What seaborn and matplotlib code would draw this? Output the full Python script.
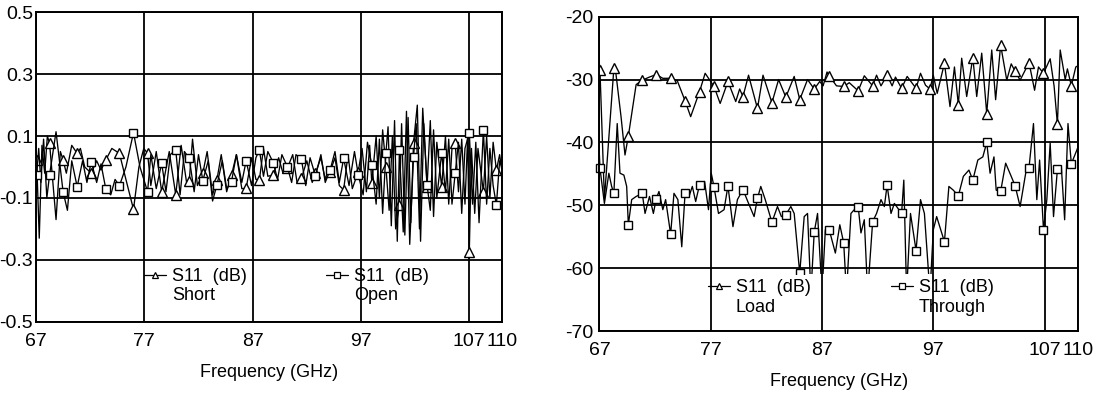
import numpy as np
import pandas as pd
import matplotlib
matplotlib.use("Agg")
import matplotlib.pyplot as plt
import seaborn as sns
from matplotlib import font_manager
from matplotlib.lines import Line2D
from matplotlib.legend import Legend
from matplotlib.transforms import Bbox, TransformedBbox

# ---------------- data ----------------
x_ticks = [67, 77, 87, 97, 107, 110]
x_tick_labels = ["67", "77", "87", "97", "107", "110"]
left_y_ticks = [0.5, 0.3, 0.1, -0.1, -0.3, -0.5]
left_y_labels = ["0.5", "0.3", "0.1", "-0.1", "-0.3", "-0.5"]
right_y_ticks = [-20, -30, -40, -50, -60, -70]
right_y_labels = ["-20", "-30", "-40", "-50", "-60", "-70"]
x_label = "Frequency (GHz)"
legend_title = "S11  (dB)"
left_names = ["Short", "Open"]
right_names = ["Load", "Through"]

# marker frequencies (GHz)
left_mk_freq = [67.06, 68.25, 69.5, 70.8, 72.1, 73.45, 74.7, 76.0, 77.3, 78.6, 79.9, 81.15,
                82.4, 83.7, 85.05, 86.4, 87.62, 88.9, 90.2, 91.5, 92.8, 94.15, 95.4, 96.75,
                98.0, 99.3, 100.55, 101.85, 103.1, 104.45, 105.7, 107.0, 108.3, 109.5]
short_mk = [0.023, 0.077, 0.023, 0.044, -0.02, 0.023, 0.044, -0.137, 0.044, -0.08, -0.09, -0.044,
            -0.02, -0.042, -0.026, -0.069, -0.042, -0.026, -0.004, -0.037, -0.02, -0.015, -0.074, -0.015,
            -0.053, 0.001, -0.123, 0.077, -0.064, -0.064, 0.077, -0.274, -0.08, -0.01]
open_mk = [-0.026, -0.026, -0.08, -0.064, 0.017, -0.072, -0.061, 0.111, -0.08, 0.012, 0.055, 0.028,
           -0.044, -0.058, -0.047, 0.02, 0.055, 0.014, 0.001, 0.025, -0.029, -0.01, 0.028, -0.025,
           0.006, 0.044, 0.055, 0.033, -0.058, 0.046, -0.02, 0.111, 0.12, -0.123]

short_freq = [67.00, 67.30, 67.55, 67.80, 68.05, 68.85, 69.25, 69.80, 70.30, 71.10, 71.50, 72.60,
              73.00, 74.00, 75.30, 76.50, 76.95, 77.60, 78.10, 79.30, 80.40, 80.90, 81.45, 81.90,
              82.80, 83.30, 84.10, 84.60, 85.50, 86.00, 86.90, 87.30, 88.00, 88.40, 89.40, 89.80,
              90.70, 91.10, 92.00, 92.50, 93.30, 93.70, 94.60, 95.00, 95.80, 96.20, 97.10, 97.50,
              97.80, 98.40, 98.70, 99.00, 99.60, 99.90, 100.20, 100.75, 101.05, 101.35, 101.60, 102.20,
              102.50, 102.80, 103.40, 103.70, 104.00, 104.80, 105.10, 105.40, 106.00, 106.30, 106.60, 106.85,
              107.20, 107.50, 107.80, 108.60, 108.90, 109.20, 109.80, 110.00]
short_val = [0.03, -0.23, 0.07, -0.02, 0.10, -0.17, 0.05, -0.02, 0.07, 0.06, 0.00, 0.02,
             -0.01, 0.06, -0.04, 0.00, 0.06, -0.06, 0.05, 0.05, 0.07, -0.05, 0.09, -0.06,
             0.05, -0.09, 0.04, -0.08, 0.04, -0.07, 0.03, -0.04, 0.06, -0.03, 0.03, -0.02,
             0.04, -0.05, 0.02, -0.05, 0.03, -0.04, 0.03, -0.06, 0.04, -0.07, 0.06, -0.08,
             0.07, 0.10, -0.10, 0.12, -0.14, 0.10, -0.20, 0.14, -0.22, 0.16, -0.18, 0.20,
             -0.24, 0.14, 0.15, -0.16, 0.08, 0.10, -0.12, 0.06, -0.08, 0.09, -0.12, 0.10,
             0.06, -0.15, 0.06, 0.10, -0.10, 0.08, 0.04, -0.01]

open_freq = [67.00, 67.25, 67.45, 67.70, 68.00, 68.85, 69.90, 70.30, 71.30, 71.70, 72.60, 73.00,
             73.90, 74.30, 75.30, 76.60, 77.60, 78.10, 79.00, 79.40, 80.30, 80.70, 81.60, 82.00,
             82.90, 83.30, 84.20, 84.60, 85.50, 86.00, 86.90, 87.30, 88.00, 88.40, 89.30, 89.70,
             90.60, 91.00, 91.90, 92.30, 93.30, 93.70, 94.60, 95.00, 95.90, 96.40, 97.20, 97.60,
             98.40, 98.70, 99.00, 99.50, 99.80, 100.10, 100.35, 100.90, 101.20, 101.50, 102.10, 102.40,
             102.70, 103.40, 103.70, 104.00, 104.80, 105.10, 105.40, 106.00, 106.30, 106.60, 107.30, 107.60,
             107.90, 108.60, 108.90, 109.20, 109.80, 110.00]
open_val = [-0.03, 0.06, -0.05, 0.09, -0.10, 0.114, -0.14, 0.02, 0.02, -0.05, -0.05, 0.01,
            -0.09, -0.04, 0.00, 0.00, 0.04, -0.07, -0.08, 0.04, -0.09, 0.05, -0.08, 0.04,
            0.02, -0.11, 0.02, -0.07, 0.04, -0.05, -0.06, 0.03, -0.03, 0.05, -0.04, 0.04,
            -0.05, 0.04, -0.06, 0.03, 0.04, -0.05, 0.05, -0.05, -0.06, 0.05, -0.09, 0.08,
            -0.12, 0.09, -0.15, 0.13, -0.19, 0.15, -0.24, -0.21, 0.18, -0.25, 0.14, -0.20,
            0.19, -0.14, 0.12, -0.10, -0.08, 0.09, -0.12, 0.08, -0.15, 0.06, -0.12, 0.08,
            -0.18, -0.12, 0.06, -0.06, 0.02, 0.00]

right_mk_freq = [67.05, 68.3, 69.6, 70.85, 72.1, 73.4, 74.7, 76.0, 77.3, 78.55, 79.9, 81.2,
                 82.5, 83.75, 85.0, 86.3, 87.65, 88.95, 90.25, 91.55, 92.85, 94.15, 95.45, 96.7,
                 98.0, 99.25, 100.55, 101.8, 103.05, 104.35, 105.6, 106.9, 108.15, 109.4]
load_mk = [-28.5, -28.2, -39.0, -30.1, -29.2, -29.8, -33.4, -31.9, -31.1, -30.3, -32.7, -34.6,
           -33.7, -32.8, -33.2, -31.5, -29.4, -31.1, -31.8, -31.0, -29.3, -31.4, -31.4, -31.5,
           -27.4, -34.0, -26.5, -35.4, -24.5, -28.7, -27.3, -29.0, -37.1, -31.0]
through_mk = [-44.1, -48.1, -53.1, -48.1, -49.0, -54.6, -48.0, -46.7, -47.1, -46.9, -47.5, -48.9,
              -52.7, -51.5, -60.8, -54.3, -53.9, -56.0, -50.2, -52.6, -46.8, -51.3, -57.2, -64.0,
              -55.8, -48.5, -46.0, -40.0, -47.8, -46.9, -44.0, -53.9, -44.3, -43.4]

load_freq = [67.00, 67.45, 68.40, 68.95, 69.30, 70.30, 71.50, 72.70, 74.00, 75.20, 76.50, 77.85,
             79.25, 79.60, 80.40, 81.70, 83.10, 84.50, 85.70, 86.80, 87.10, 87.45, 88.30, 89.45,
             90.80, 91.90, 92.30, 93.30, 93.60, 94.65, 95.85, 96.30, 97.00, 97.35, 98.50, 98.90,
             99.55, 100.00, 100.90, 101.35, 102.25, 102.60, 103.60, 104.00, 104.80, 106.10, 106.45, 107.50,
             107.85, 108.40, 108.85, 109.05, 109.80, 110.00]
load_val = [-27.5, -49.0, -27.8, -36.0, -42.0, -30.8, -29.6, -29.8, -30.2, -35.9, -29.0, -33.8,
            -33.5, -31.5, -29.3, -29.3, -30.0, -29.5, -30.0, -30.3, -31.0, -28.8, -31.0, -30.5,
            -29.4, -29.3, -31.0, -31.0, -29.6, -29.5, -29.0, -30.9, -29.3, -32.2, -34.3, -28.0,
            -26.6, -32.7, -32.7, -25.8, -25.3, -33.2, -30.1, -27.5, -30.1, -31.7, -28.0, -26.7,
            -31.0, -25.3, -30.0, -28.3, -28.0, -27.8]

through_freq = [67.00, 67.45, 67.85, 68.10, 68.60, 68.85, 69.20, 69.45, 69.90, 70.30, 71.10, 71.50,
                71.85, 72.35, 72.70, 72.95, 73.70, 74.05, 74.40, 75.05, 75.35, 75.65, 76.45, 76.80,
                77.05, 77.70, 78.20, 79.00, 79.40, 80.40, 80.90, 81.50, 81.90, 83.00, 83.35, 84.20,
                84.50, 85.40, 85.70, 86.00, 86.60, 87.00, 87.30, 88.20, 88.60, 89.20, 89.60, 89.90,
                90.50, 90.80, 91.10, 91.90, 92.30, 92.60, 93.20, 93.50, 94.35, 94.60, 94.95, 95.85,
                96.20, 97.00, 97.30, 98.40, 98.80, 99.70, 100.20, 101.00, 101.45, 102.10, 102.45, 102.65,
                103.50, 104.00, 104.80, 105.30, 106.00, 106.30, 106.55, 107.20, 107.50, 107.80, 108.50, 108.80,
                109.10, 109.90, 110.00]
through_val = [-42.0, -49.7, -44.9, -47.0, -37.0, -44.9, -45.2, -47.0, -49.1, -48.6, -51.3, -48.6,
               -51.3, -47.8, -50.7, -49.1, -48.1, -49.1, -56.6, -48.6, -47.0, -49.4, -46.2, -50.7,
               -44.9, -51.3, -50.7, -53.4, -49.1, -49.7, -51.8, -47.0, -49.1, -50.2, -51.8, -50.2,
               -51.3, -51.8, -51.3, -64.0, -51.3, -64.0, -53.9, -57.6, -53.1, -64.0, -51.3, -50.7,
               -54.4, -52.3, -64.0, -51.3, -49.1, -50.2, -51.3, -49.7, -46.0, -64.0, -51.3, -49.1,
               -51.3, -53.9, -51.8, -47.0, -47.6, -45.4, -44.4, -42.8, -42.3, -44.9, -42.3, -47.6,
               -43.3, -45.4, -50.2, -44.9, -37.0, -49.1, -42.8, -49.1, -40.1, -51.8, -43.8, -52.3,
               -37.0, -41.2, -40.7]

# ---------------- style ----------------
sns.set_theme(style="white")
_names = {f.name for f in font_manager.fontManager.ttflist}
_fam = "Liberation Sans Narrow" if "Liberation Sans Narrow" in _names else "Liberation Sans"
plt.rcParams["font.family"] = [_fam, "DejaVu Sans"]
plt.rcParams["axes.unicode_minus"] = False
plt.rcParams["text.color"] = "black"
plt.rcParams["axes.labelcolor"] = "black"
plt.rcParams["xtick.color"] = "black"
plt.rcParams["ytick.color"] = "black"
plt.rcParams["legend.labelcolor"] = "black"

FS = 14


def build(freq, val, mk_freq, mk_val):
    df = pd.DataFrame({
        "freq": list(freq) + list(mk_freq),
        "val": list(val) + list(mk_val),
        "mk": [False] * len(freq) + [True] * len(mk_freq),
    })
    df = df.sort_values("freq", kind="stable").reset_index(drop=True)
    return df, [int(i) for i in np.flatnonzero(df["mk"].values)]


def draw_series(ax, df, idx, marker, ms):
    sns.lineplot(data=df, x="freq", y="val", ax=ax, sort=False, estimator=None,
                 color="black", linewidth=0.95, marker=marker, markevery=idx,
                 markersize=ms, markerfacecolor="white", markeredgecolor="black",
                 markeredgewidth=1.0)
    return ax.lines[-1]


def style_axes(ax, yticks, ylabels, ylim, ypad, lpad):
    ax.set_xlim(67, 110)
    ax.set_ylim(*ylim)
    ax.set_xticks(x_ticks)
    ax.set_xticklabels(x_tick_labels)
    ax.set_yticks(yticks)
    ax.set_yticklabels(ylabels)
    ax.grid(True, color="black", linewidth=1.3)
    ax.set_axisbelow(True)
    for s in ax.spines.values():
        s.set_color("black")
        s.set_linewidth(1.4)
    ax.tick_params(axis="x", length=0, pad=8, labelsize=FS, colors="black")
    ax.tick_params(axis="y", length=0, pad=ypad, labelsize=FS, colors="black")
    ax.set_xlabel(x_label, fontsize=FS - 1, labelpad=lpad, color="black")
    ax.set_ylabel("")


def add_legend(ax, marker, ms, x, y, sub):
    h = Line2D([], [], color="black", linewidth=0.9, marker=marker, markersize=ms,
               markerfacecolor="white", markeredgecolor="black", markeredgewidth=0.9)
    leg = Legend(ax, [h], [legend_title], loc="center left", bbox_to_anchor=(x, y),
                 frameon=False, borderpad=0, borderaxespad=0, handlelength=1.2,
                 handletextpad=0.35, fontsize=FS - 1, labelcolor="black")
    ax.add_artist(leg)
    txt = leg.get_texts()[0]
    ax.annotate(sub, xy=(0, 0), xycoords=txt, xytext=(0, -1.5), textcoords="offset points",
                ha="left", va="top", fontsize=FS - 1, color="black", zorder=10)


fig = plt.figure(figsize=(11.05, 3.94), dpi=100)
fig.patch.set_facecolor("white")

axL = fig.add_axes([36 / 1105, 1 - 321.7 / 394, 465.8 / 1105, 309.4 / 394])
axR = fig.add_axes([599.4 / 1105, 1 - 331 / 394, 478.6 / 1105, 314.3 / 394])

# left panel
df_s, i_s = build(short_freq, short_val, left_mk_freq, short_mk)
df_o, i_o = build(open_freq, open_val, left_mk_freq, open_mk)
draw_series(axL, df_s, i_s, "^", 7)
draw_series(axL, df_o, i_o, "s", 6.3)
style_axes(axL, left_y_ticks, left_y_labels, (-0.5, 0.5), 2, 10)
add_legend(axL, "^", 4, (144.4 - 36) / 465.8, (321.7 - 276.7) / 309.4, left_names[0])
add_legend(axL, "s", 4, (326.3 - 36) / 465.8, (321.7 - 276.7) / 309.4, left_names[1])

# right panel
df_l, i_l = build(load_freq, load_val, right_mk_freq, load_mk)
df_t, i_t = build(through_freq, through_val, right_mk_freq, through_mk)
draw_series(axR, df_l, i_l, "^", 7)
ln_t = draw_series(axR, df_t, i_t, "s", 6.3)
ln_t.set_clip_box(TransformedBbox(Bbox([[66.5, -61.0], [110.5, -19.0]]), axR.transData))
style_axes(axR, right_y_ticks, right_y_labels, (-70, -20), 4, 10)
add_legend(axR, "^", 4, (708 - 599.4) / 478.6, (331 - 288) / 314.3, right_names[0])
add_legend(axR, "s", 4, (891 - 599.4) / 478.6, (331 - 288) / 314.3, right_names[1])

fig.savefig("out.png", dpi=100, facecolor="white")
